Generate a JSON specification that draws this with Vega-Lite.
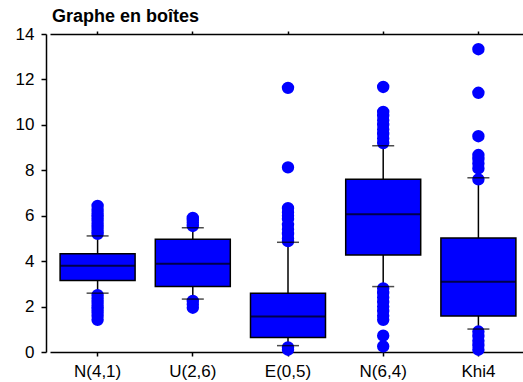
{
  "$schema": "https://vega.github.io/schema/vega-lite/v6.json",
  "autosize": "none",
  "width": 473,
  "height": 318,
  "padding": {"left": 50, "top": 34, "right": 0, "bottom": 30},
  "background": "white",
  "title": {"text": "Graphe en boîtes", "anchor": "start", "frame": "group", "font": "Liberation Sans", "fontSize": 18, "fontWeight": "bold", "color": "black", "baseline": "alphabetic", "offset": -15, "dx": 2},
  "config": {"view": {"stroke": null}, "font": "Liberation Sans"},
  "datasets": {
    "summary": [
      {"cat": "N(4,1)", "lo": 2.59, "q1": 3.15, "med": 3.80, "q3": 4.32, "hi": 5.11},
      {"cat": "U(2,6)", "lo": 2.33, "q1": 2.88, "med": 3.88, "q3": 4.96, "hi": 5.47},
      {"cat": "E(0,5)", "lo": 0.28, "q1": 0.64, "med": 1.56, "q3": 2.59, "hi": 4.83},
      {"cat": "N(6,4)", "lo": 2.88, "q1": 4.27, "med": 6.06, "q3": 7.61, "hi": 9.08},
      {"cat": "Khi4", "lo": 1.01, "q1": 1.59, "med": 3.09, "q3": 5.02, "hi": 7.67}
    ],
    "outliers": [
      {"cat": "N(4,1)", "v": 5.2}, {"cat": "N(4,1)", "v": 5.35}, {"cat": "N(4,1)", "v": 5.5}, {"cat": "N(4,1)", "v": 5.65}, {"cat": "N(4,1)", "v": 5.8}, {"cat": "N(4,1)", "v": 5.95}, {"cat": "N(4,1)", "v": 6.1}, {"cat": "N(4,1)", "v": 6.25}, {"cat": "N(4,1)", "v": 6.43},
      {"cat": "N(4,1)", "v": 2.5}, {"cat": "N(4,1)", "v": 2.35}, {"cat": "N(4,1)", "v": 2.2}, {"cat": "N(4,1)", "v": 2.05}, {"cat": "N(4,1)", "v": 1.9}, {"cat": "N(4,1)", "v": 1.75}, {"cat": "N(4,1)", "v": 1.6}, {"cat": "N(4,1)", "v": 1.42},
      {"cat": "U(2,6)", "v": 5.55}, {"cat": "U(2,6)", "v": 5.7}, {"cat": "U(2,6)", "v": 5.8}, {"cat": "U(2,6)", "v": 5.9},
      {"cat": "U(2,6)", "v": 2.25}, {"cat": "U(2,6)", "v": 2.1}, {"cat": "U(2,6)", "v": 1.95},
      {"cat": "E(0,5)", "v": 11.63}, {"cat": "E(0,5)", "v": 8.13}, {"cat": "E(0,5)", "v": 6.33}, {"cat": "E(0,5)", "v": 6.15}, {"cat": "E(0,5)", "v": 6.0}, {"cat": "E(0,5)", "v": 5.85}, {"cat": "E(0,5)", "v": 5.6}, {"cat": "E(0,5)", "v": 5.4}, {"cat": "E(0,5)", "v": 5.2}, {"cat": "E(0,5)", "v": 5.0}, {"cat": "E(0,5)", "v": 4.88},
      {"cat": "E(0,5)", "v": 0.2}, {"cat": "E(0,5)", "v": 0.1},
      {"cat": "N(6,4)", "v": 11.67}, {"cat": "N(6,4)", "v": 10.57}, {"cat": "N(6,4)", "v": 10.4}, {"cat": "N(6,4)", "v": 10.2}, {"cat": "N(6,4)", "v": 10.0}, {"cat": "N(6,4)", "v": 9.8}, {"cat": "N(6,4)", "v": 9.6}, {"cat": "N(6,4)", "v": 9.4}, {"cat": "N(6,4)", "v": 9.2},
      {"cat": "N(6,4)", "v": 2.8}, {"cat": "N(6,4)", "v": 2.6}, {"cat": "N(6,4)", "v": 2.4}, {"cat": "N(6,4)", "v": 2.2}, {"cat": "N(6,4)", "v": 2.0}, {"cat": "N(6,4)", "v": 1.8}, {"cat": "N(6,4)", "v": 1.6}, {"cat": "N(6,4)", "v": 1.42}, {"cat": "N(6,4)", "v": 0.72}, {"cat": "N(6,4)", "v": 0.25},
      {"cat": "Khi4", "v": 13.33}, {"cat": "Khi4", "v": 11.41}, {"cat": "Khi4", "v": 9.5}, {"cat": "Khi4", "v": 8.67}, {"cat": "Khi4", "v": 8.5}, {"cat": "Khi4", "v": 8.3}, {"cat": "Khi4", "v": 8.08}, {"cat": "Khi4", "v": 7.6},
      {"cat": "Khi4", "v": 0.9}, {"cat": "Khi4", "v": 0.7}, {"cat": "Khi4", "v": 0.5}, {"cat": "Khi4", "v": 0.3}, {"cat": "Khi4", "v": 0.1}
    ]
  },
  "layer": [
    {
      "data": {"name": "summary"},
      "mark": {"type": "rule", "color": "black", "strokeWidth": 1.5},
      "encoding": {
        "x": {"field": "cat", "type": "nominal", "sort": null,
              "scale": {"range": [0, 476], "paddingInner": 0, "paddingOuter": 0},
              "axis": {"orient": "bottom", "title": null, "labelAngle": 0, "labelFontSize": 17, "labelColor": "black", "labelFont": "Liberation Sans", "tickSize": 4, "tickColor": "black", "tickWidth": 1.5, "domainColor": "black", "domainWidth": 1.5, "labelPadding": 7}},
        "y": {"field": "lo", "type": "quantitative",
              "scale": {"domain": [0, 14], "nice": false, "zero": false},
              "axis": {"title": null, "values": [0,1,2,3,4,5,6,7,8,9,10,11,12,13,14], "labelExpr": "datum.value % 2 ? '' : datum.label", "tickSize": {"condition": {"test": "datum.value % 2 === 1", "value": 3}, "value": 5}, "offset": 4, "grid": false, "labelFontSize": 17, "labelColor": "black", "labelFont": "Liberation Sans", "tickColor": "black", "tickWidth": 1.5, "domainColor": "black", "domainWidth": 1.5, "labelPadding": 7}},
        "y2": {"field": "hi"}
      }
    },
    {
      "data": {"name": "summary"},
      "mark": {"type": "bar", "color": "#0000FF", "stroke": "black", "strokeWidth": 1.5, "size": 75},
      "encoding": {
        "x": {"field": "cat", "type": "nominal", "sort": null,
              "axis": {"orient": "top", "title": null, "labels": false, "tickSize": 3, "tickColor": "black", "tickWidth": 1.5, "domainColor": "black", "domainWidth": 1.5}},
        "y": {"field": "q1", "type": "quantitative"},
        "y2": {"field": "q3"}
      }
    },
    {
      "data": {"name": "summary"},
      "mark": {"type": "tick", "color": "black", "size": 75, "thickness": 2},
      "encoding": {
        "x": {"field": "cat", "type": "nominal", "sort": null, "axis": null},
        "y": {"field": "med", "type": "quantitative"}
      }
    },
    {
      "data": {"name": "outliers"},
      "mark": {"type": "point", "filled": true, "color": "#0000FF", "opacity": 1, "size": 154},
      "encoding": {
        "x": {"field": "cat", "type": "nominal", "sort": null, "axis": null},
        "y": {"field": "v", "type": "quantitative"}
      }
    },
    {
      "data": {"name": "summary"},
      "mark": {"type": "tick", "color": "black", "size": 22, "thickness": 1.5},
      "encoding": {
        "x": {"field": "cat", "type": "nominal", "sort": null, "axis": null},
        "y": {"field": "lo", "type": "quantitative"}
      }
    },
    {
      "data": {"name": "summary"},
      "mark": {"type": "tick", "color": "black", "size": 22, "thickness": 1.5},
      "encoding": {
        "x": {"field": "cat", "type": "nominal", "sort": null, "axis": null},
        "y": {"field": "hi", "type": "quantitative"}
      }
    }
  ],
  "resolve": {"axis": {"x": "independent"}}
}
